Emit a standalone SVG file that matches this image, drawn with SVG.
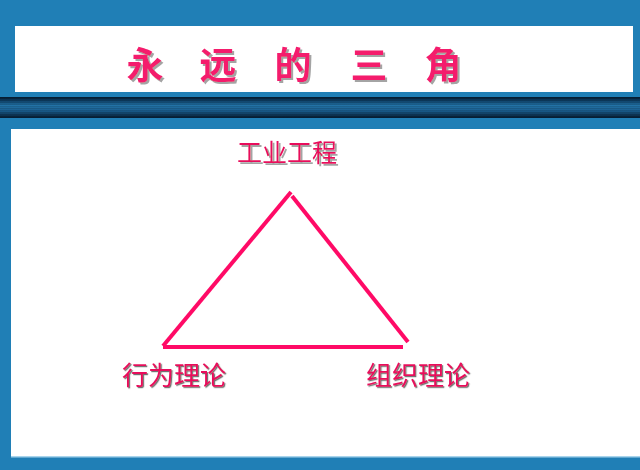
<svg xmlns="http://www.w3.org/2000/svg" width="640" height="470" viewBox="0 0 640 470">
<defs>
<linearGradient id="band" x1="0" y1="0" x2="0" y2="1">
<stop offset="0" stop-color="#05192c"/>
<stop offset="0.15" stop-color="#0c3a5e"/>
<stop offset="0.4" stop-color="#2272a6"/>
<stop offset="0.65" stop-color="#1a5f90"/>
<stop offset="1" stop-color="#051a2e"/>
</linearGradient>
<pattern id="lines" width="4" height="2" patternUnits="userSpaceOnUse">
<rect width="4" height="1" fill="#000" opacity="0.12"/>
</pattern>
<filter id="tsh" x="-20%" y="-20%" width="150%" height="150%">
<feDropShadow dx="2" dy="2" stdDeviation="0.6" flood-color="#9a9a9a" flood-opacity="0.9"/>
</filter>
<filter id="lsh" x="-10%" y="-20%" width="130%" height="150%">
<feDropShadow dx="1.2" dy="1.2" stdDeviation="0.3" flood-color="#505050" flood-opacity="0.8"/>
</filter>
</defs>
<style>
.title{font-family:"Noto Sans CJK SC","Noto Sans CJK JP",sans-serif;font-size:37px;font-weight:bold;fill:#f41a6c;text-anchor:middle;filter:url(#tsh)}
.lbl{font-family:"Noto Sans CJK SC","Noto Sans CJK JP",sans-serif;font-size:26px;fill:#e8105c;filter:url(#lsh)}
.edge{stroke:#ff0a66;stroke-width:4;fill:none;stroke-linecap:butt}
</style>
<rect width="640" height="470" fill="#207fb6"/>
<rect x="15" y="26" width="618" height="66" fill="#ffffff"/>
<rect x="0" y="97" width="640" height="21" fill="url(#band)"/>
<rect x="0" y="97" width="640" height="21" fill="url(#lines)"/>
<rect x="11" y="129" width="629" height="327" fill="#ffffff"/>
<rect x="11" y="456" width="629" height="1.5" fill="#a8d4ec"/>
<g id="title">
<text class="title" x="145" y="79">永</text>
<text class="title" x="218" y="79">远</text>
<text class="title" x="293" y="79">的</text>
<text class="title" x="369" y="79">三</text>
<text class="title" x="443" y="79">角</text>
</g>
<g id="connectors">
<line class="edge" x1="163" y1="346" x2="291" y2="192"/>
<line class="edge" x1="292" y1="196" x2="408" y2="342"/>
<line class="edge" x1="163" y1="347" x2="403" y2="347"/>
</g>
<g id="node-industrial">
<text class="lbl" x="237" y="162" style="font-size:25px;filter:url(#tsh)">工业工程</text>
</g>
<g id="node-behavior">
<text class="lbl" x="122" y="385">行为理论</text>
</g>
<g id="node-organization">
<text class="lbl" x="366" y="385">组织理论</text>
</g>
</svg>
